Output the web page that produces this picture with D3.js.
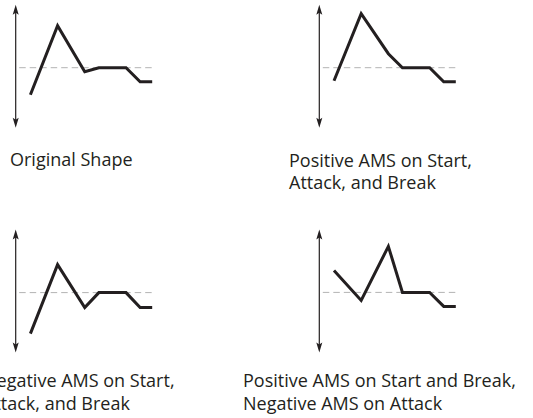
<!DOCTYPE html>
<html>
<head>
<meta charset="utf-8">
<script src="https://cdn.jsdelivr.net/npm/d3@7"></script>
<style>
  html, body { margin: 0; padding: 0; background: #fff; }
  svg { display: block; }
</style>
</head>
<body>
<div id="chart"></div>
<script>
// ---- data ----
const stageTimes = [0, 27, 54, 68, 95, 109, 121];           // envelope breakpoints (time)
const originalLevels = [-27, 42, -4, 0, 0, -14, -14];      // Original Shape
const positiveLevels = [-13, 54, 14, 0, 0, -14, -14];      // Positive AMS on Start, Attack, Break
const negativeLevels = [-41, 28, -15, 0, 0, -15, -15];     // Negative AMS on Start, Attack, Break
const mixedLevels    = [22, -8, 46, 0, 0, -14, -14];       // Positive Start/Break, Negative Attack
const panelTitles = [
  ["Original Shape"],
  ["Positive AMS on Start,", "Attack, and Break"],
  ["Negative AMS on Start,", "Attack, and Break"],
  ["Positive AMS on Start and Break,", "Negative AMS on Attack"]
];
const levelExtent = [-60, 63];   // axis arrow range (level units)

// ---- layout ----
const W = 533, H = 418;
const ink = "#231f20";
const panels = [
  { levels: originalLevels, ax: 15.7,  mid: 67.7,  tx: 10,  ty: 166.3 },
  { levels: positiveLevels, ax: 319.3, mid: 67.7,  tx: 289, ty: 166.5 },
  { levels: negativeLevels, ax: 15.7,  mid: 292.6, tx: -17, ty: 386.8 },
  { levels: mixedLevels,    ax: 319.3, mid: 292.4, tx: 243, ty: 386.8 }
];
panels.forEach((p, i) => p.title = panelTitles[i]);

const svg = d3.select("#chart").append("svg")
  .attr("width", W).attr("height", H);

panels.forEach(p => {
  const g = svg.append("g");
  const x = d3.scaleLinear().domain([0, 121]).range([p.ax + 14.7, p.ax + 136.5]);
  const y = d3.scaleLinear().domain([-62, 62]).range([p.mid + 62, p.mid - 62]);

  // dashed reference (sustain level 0)
  g.append("line")
    .attr("x1", p.ax + 3.5).attr("x2", p.ax + 137.5)
    .attr("y1", y(0)).attr("y2", y(0))
    .attr("stroke", "#b3b3b3").attr("stroke-width", 1)
    .attr("stroke-dasharray", "6.5,4");

  // vertical double arrow
  const yTop = y(levelExtent[1]), yBot = y(levelExtent[0]);
  const headL = 10, headW = 3;
  g.append("line")
    .attr("x1", p.ax).attr("x2", p.ax)
    .attr("y1", yTop + 6).attr("y2", yBot - 6)
    .attr("stroke", ink).attr("stroke-width", 1.2);
  g.append("path")
    .attr("d", `M${p.ax},${yTop} L${p.ax + headW},${yTop + headL} L${p.ax},${yTop + headL - 2} L${p.ax - headW},${yTop + headL} Z`)
    .attr("fill", ink);
  g.append("path")
    .attr("d", `M${p.ax},${yBot} L${p.ax + headW},${yBot - headL} L${p.ax},${yBot - headL + 2} L${p.ax - headW},${yBot - headL} Z`)
    .attr("fill", ink);

  // envelope line
  const line = d3.line().x((d, i) => x(stageTimes[i])).y(d => y(d));
  g.append("path")
    .attr("d", line(p.levels))
    .attr("fill", "none")
    .attr("stroke", ink)
    .attr("stroke-width", 3)
    .attr("stroke-linejoin", "miter");

  // caption
  const t = g.append("text")
    .attr("x", p.tx).attr("y", p.ty)
    .attr("fill", ink)
    .style("font-family", "'Open Sans', sans-serif")
    .style("font-size", "18px");
  p.title.forEach((s, k) => {
    t.append("tspan").attr("x", p.tx).attr("dy", k === 0 ? 0 : 22.7).text(s);
  });
});
</script>
</body>
</html>
